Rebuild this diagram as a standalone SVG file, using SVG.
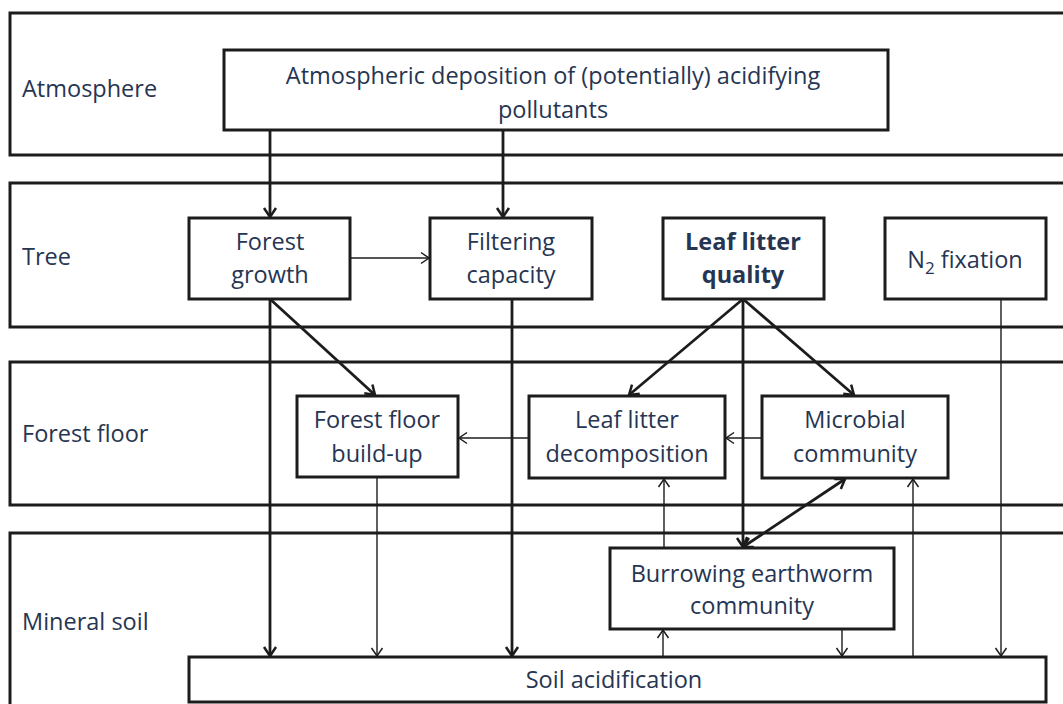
<svg xmlns="http://www.w3.org/2000/svg" width="1063" height="704" viewBox="0 0 1063 704">
<defs>
<style>
.layer{fill:none;stroke:#1c1c1c;stroke-width:3}
.box{fill:#fff;stroke:#1c1c1c;stroke-width:3}
.t{font-family:"Open Sans",Lato,sans-serif;font-size:23.5px;fill:#263552}
.c{text-anchor:middle}
.b{font-weight:bold}
.thick{stroke:#1c1c1c;stroke-width:2.8;fill:none;marker-end:url(#ah)}
.thin{stroke:#1c1c1c;stroke-width:1.4;fill:none;marker-end:url(#ah2)}
</style>
<marker id="ah" viewBox="-11 -8 13 16" markerWidth="13" markerHeight="16" refX="0" refY="0" orient="auto-start-reverse" markerUnits="userSpaceOnUse">
<path d="M-9,-6 L0,0 L-9,6" fill="none" stroke="#1c1c1c" stroke-width="2.5"/>
</marker>
<marker id="ah2" viewBox="-10 -7 12 14" markerWidth="12" markerHeight="14" refX="0" refY="0" orient="auto-start-reverse" markerUnits="userSpaceOnUse">
<path d="M-8,-5.5 L0,0 L-8,5.5" fill="none" stroke="#1c1c1c" stroke-width="1.5"/>
</marker>
</defs>
<rect width="1063" height="704" fill="#fff"/>

<g id="layer-atmosphere"><rect class="layer" x="10" y="13" width="1070" height="142"/><text class="t" x="22" y="97">Atmosphere</text></g>
<g id="layer-tree"><rect class="layer" x="10" y="183" width="1070" height="144"/><text class="t" x="22" y="265">Tree</text></g>
<g id="layer-forest-floor"><rect class="layer" x="10" y="362" width="1070" height="143"/><text class="t" x="22" y="442">Forest floor</text></g>
<g id="layer-mineral-soil"><rect class="layer" x="10" y="533" width="1070" height="190"/><text class="t" x="22" y="630">Mineral soil</text></g>

<g id="connectors">
<line class="thick" x1="270" y1="130" x2="270" y2="217"/>
<line class="thick" x1="503" y1="130" x2="503" y2="217"/>
<line class="thin" x1="350" y1="258" x2="429" y2="258"/>
<line class="thick" x1="270" y1="299" x2="270" y2="656"/>
<line class="thick" x1="512" y1="299" x2="512" y2="656"/>
<line class="thick" x1="270" y1="299" x2="375" y2="395"/>
<line class="thick" x1="743" y1="299" x2="629" y2="395"/>
<line class="thick" x1="743" y1="299" x2="854" y2="395"/>
<line class="thick" x1="743" y1="299" x2="743" y2="547"/>
<line class="thin" x1="1001" y1="299" x2="1001" y2="656"/>
<line class="thin" x1="762" y1="438" x2="726" y2="438"/>
<line class="thin" x1="529" y1="438" x2="459" y2="438"/>
<line class="thin" x1="377" y1="477" x2="377" y2="656"/>
<line class="thin" x1="664" y1="548" x2="664" y2="479"/>
<line class="thick" x1="743" y1="547" x2="845" y2="479" style="marker-start:url(#ah)"/>
<line class="thin" x1="913" y1="657" x2="913" y2="479"/>
<line class="thin" x1="663" y1="657" x2="663" y2="630"/>
<line class="thin" x1="842" y1="629" x2="842" y2="656"/>
</g>

<g id="node-deposition"><rect class="box" x="224" y="50" width="664" height="80"/>
<text class="t c" x="553" y="84">Atmospheric deposition of (potentially) acidifying</text>
<text class="t c" x="553" y="118">pollutants</text></g>

<g id="node-forest-growth"><rect class="box" x="189" y="218" width="161" height="81"/>
<text class="t c" x="270" y="250">Forest</text><text class="t c" x="270" y="283">growth</text></g>

<g id="node-filtering"><rect class="box" x="430" y="218" width="162" height="81"/>
<text class="t c" x="511" y="250">Filtering</text><text class="t c" x="511" y="283">capacity</text></g>

<g id="node-leaf-litter-quality"><rect class="box" x="663" y="218" width="161" height="81"/>
<text class="t c b" x="743" y="250">Leaf litter</text><text class="t c b" x="743" y="283">quality</text></g>

<g id="node-n2-fixation"><rect class="box" x="885" y="218" width="161" height="81"/>
<text class="t c" x="965" y="268">N<tspan font-size="17" dy="6">2</tspan><tspan dy="-6"> fixation</tspan></text></g>

<g id="node-forest-floor-buildup"><rect class="box" x="297" y="396" width="161" height="81"/>
<text class="t c" x="377" y="428">Forest floor</text><text class="t c" x="377" y="462">build-up</text></g>

<g id="node-decomposition"><rect class="box" x="529" y="396" width="196" height="82"/>
<text class="t c" x="627" y="428">Leaf litter</text><text class="t c" x="627" y="462">decomposition</text></g>

<g id="node-microbial"><rect class="box" x="762" y="396" width="186" height="82"/>
<text class="t c" x="855" y="428">Microbial</text><text class="t c" x="855" y="462">community</text></g>

<g id="node-earthworm"><rect class="box" x="610" y="548" width="284" height="81"/>
<text class="t c" x="752" y="582">Burrowing earthworm</text><text class="t c" x="752" y="614">community</text></g>

<g id="node-soil-acidification"><rect class="box" x="189" y="657" width="857" height="45"/>
<text class="t c" x="614" y="688">Soil acidification</text></g>
</svg>
